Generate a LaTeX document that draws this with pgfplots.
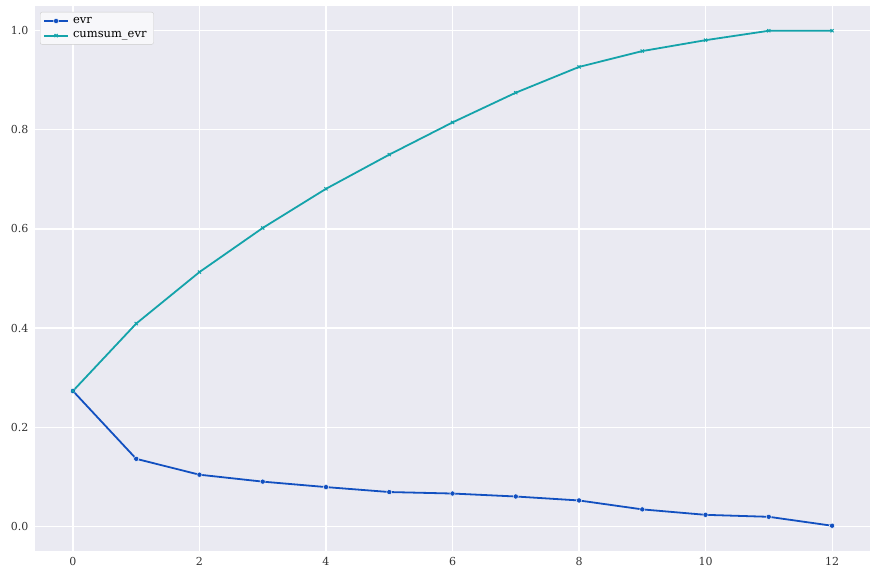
\documentclass[border=0pt]{standalone}
\usepackage{pgfplots}
\pgfplotsset{compat=1.18}
\usepackage{fontspec}
\setmainfont{DejaVu Serif}
\definecolor{bgc}{HTML}{EAEAF2}
\definecolor{evrc}{RGB}{18,80,192}
\definecolor{cumc}{RGB}{20,163,170}
\begin{document}
\begin{tikzpicture}
\path (0,0) rectangle (878bp,577bp);
\begin{axis}[
  at={(35bp,26bp)}, anchor=south west,
  scale only axis, width=835bp, height=545bp,
  xmin=-0.6, xmax=12.6, ymin=-0.05, ymax=1.05,
  xtick={0,2,...,12}, ytick={0,0.2,0.4,0.6,0.8,1.0},
  yticklabel style={/pgf/number format/.cd, fixed, fixed zerofill, precision=1},
  /pgf/number format/assume math mode=true,
  tick label style={font=\fontsize{11bp}{13bp}\selectfont, text=black!80},
  major tick length=0pt,
  xtick align=outside, ytick align=outside,
  xticklabel shift=3bp, yticklabel shift=3bp,
  axis background/.style={fill=bgc},
  axis line style={draw=none},
  grid=major, major grid style={white, line width=1.1bp},
  legend style={at={(rel axis cs:0.006,0.989)}, anchor=north west,
    fill=bgc!40, draw=black!20, rounded corners=2bp,
    font=\fontsize{11.5bp}{13bp}\selectfont, row sep=3bp,
    inner xsep=3bp, inner ysep=3bp,
    nodes={inner xsep=4bp}},
  legend cell align=left,
  legend image code/.code={\draw[#1, mark repeat=2, mark phase=2] plot coordinates {(0bp,0bp) (12bp,0bp) (24bp,0bp)};},
]
\addplot[evrc, line width=1.8bp, mark=*, mark size=2.6bp, mark options={fill=evrc, draw=white, line width=0.4bp}] coordinates {
(0,0.273) (1,0.136) (2,0.104) (3,0.090) (4,0.079) (5,0.069) (6,0.066) (7,0.060) (8,0.052) (9,0.034) (10,0.023) (11,0.019) (12,0.001)};
\addlegendentry{evr}
\addplot[cumc, line width=1.8bp, mark=x, mark size=2.2bp, mark options={line width=1.1bp, solid}] coordinates {
(0,0.273) (1,0.409) (2,0.513) (3,0.602) (4,0.681) (5,0.750) (6,0.815) (7,0.875) (8,0.927) (9,0.959) (10,0.981) (11,1.0) (12,1.0)};
\addlegendentry{cumsum\_evr}
\end{axis}
\end{tikzpicture}
\end{document}
